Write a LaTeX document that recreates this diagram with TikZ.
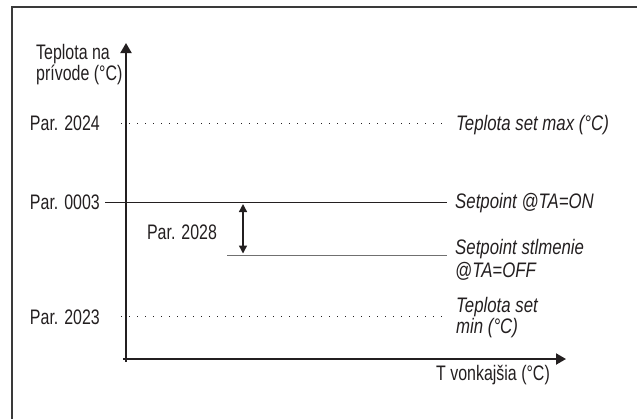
\documentclass[tikz,border=0pt]{standalone}
\usepackage{fontspec}
\setmainfont{Liberation Sans}
\newfontfamily\labfont{Liberation Sans}[FakeStretch=0.76]
\newfontfamily\labitfont{Liberation Sans}[FakeStretch=0.8]
\usetikzlibrary{arrows.meta}
\definecolor{ink}{HTML}{231F20}
\definecolor{frame}{HTML}{3A3A3A}
\definecolor{offline}{HTML}{707070}
\tikzset{
  lab/.style={inner sep=0pt, text=ink, font={\labfont\fontsize{21bp}{21bp}\selectfont}},
  labit/.style={inner sep=0pt, text=ink, font={\labitfont\itshape\fontsize{21bp}{21bp}\selectfont}},
  axis/.style={line width=2bp, draw=ink},
  dotline/.style={line width=1bp, draw=ink, dash pattern=on 1bp off 7bp},
  solidline/.style={line width=1.1bp, draw=ink},
  grayline/.style={line width=1.3bp, draw=offline},
}
\begin{document}
\begin{tikzpicture}[x=1bp,y=-1bp]
\useasboundingbox (0,0) rectangle (637,419);
% frame (top and left only)
\draw[line width=1.6bp, draw=frame] (12,419) -- (12,7) -- (637,7);
% axes
\coordinate (yb) at (126,362);
\coordinate (yt) at (126,43);
\coordinate (xl) at (123,359);
\coordinate (xr) at (566,359);
\draw[axis, -{Triangle[length=10bp,width=11bp]}] (yb) -- (yt);
\draw[axis, -{Triangle[length=10bp,width=11bp]}] (xl) -- (xr);
% axis labels
\node[lab, anchor=base west, align=left, font={\labfont\fontsize{21bp}{21bp}\selectfont}] (ylab) at (36,80) {Teplota na\\prívode (°C)};
\node[lab, anchor=base] (xlab) at (493,380) {T vonkajšia (°C)};
% Par. 2024
\node[lab, anchor=base east] (p2024) at (100,130.5) {Par. 2024};
\coordinate (d1a) at (121,123.3);
\coordinate (d1b) at (447,123.3);
\draw[dotline] (d1a) -- (d1b);
\node[labit, anchor=base west] (tmax) at (456,130) {Teplota set max (°C)};
% Par. 0003
\node[lab, anchor=base east] (p0003) at (100,209.5) {Par. 0003};
\coordinate (s1b) at (447,202.3);
\draw[solidline] (p0003.east |- s1b) ++(5,0) -- (s1b);
\node[labit, anchor=base west] (son) at (455,208.5) {Setpoint @TA=ON};
% Par. 2028
\node[lab, anchor=base] (p2028) at (182,239) {Par. 2028};
\coordinate (aa) at (243,204);
\coordinate (ab) at (243,253.5);
\draw[line width=1.4bp, draw=ink, {Triangle[length=8bp,width=8bp]}-{Triangle[length=8bp,width=8bp]}] (aa) -- (ab);
\coordinate (g1a) at (227,255.7);
\coordinate (g1b) at (447,255.7);
\draw[grayline] (g1a) -- (g1b);
\node[labit, anchor=base west, align=left, font={\labitfont\itshape\fontsize{21bp}{23bp}\selectfont}] (soff) at (455,277) {Setpoint stlmenie\\@TA=OFF};
% Par. 2023
\node[lab, anchor=base east] (p2023) at (100,324.5) {Par. 2023};
\coordinate (d2a) at (121,316.7);
\coordinate (d2b) at (447,316.7);
\draw[dotline] (d2a) -- (d2b);
\node[labit, anchor=base west, align=left, font={\labitfont\itshape\fontsize{21bp}{17.5bp}\selectfont}] (tmin) at (456,333) {Teplota set\\min (°C)};
\end{tikzpicture}
\end{document}
